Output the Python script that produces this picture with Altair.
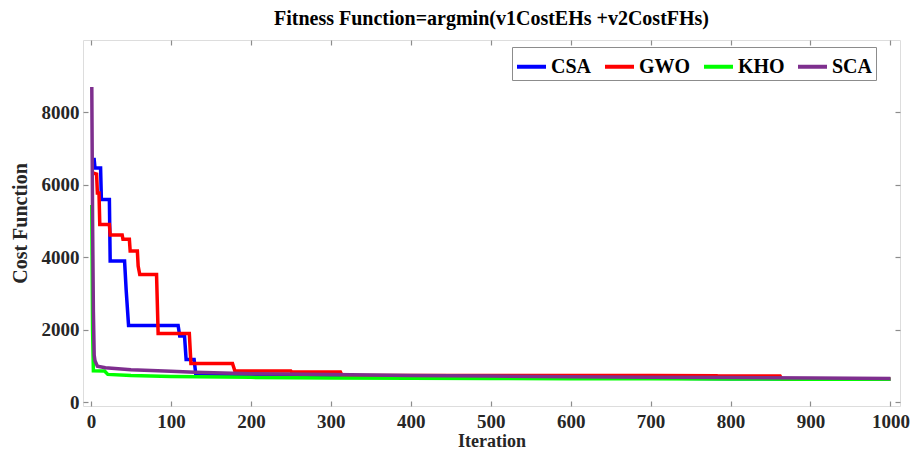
import altair as alt
import pandas as pd

series_names = ["CSA", "GWO", "KHO", "SCA"]
series_colors = ["#0000FF", "#FF0000", "#00FF00", "#7E2F8E"]

csa_iter = [1, 4, 5, 12, 13, 23, 24, 42, 44, 47, 109, 111, 117, 119, 129, 131, 200, 300, 400, 500, 600, 700, 800, 900, 1000]
csa_val = [6700, 6700, 6470, 6470, 5600, 5600, 3900, 3900, 3100, 2120, 2120, 1830, 1830, 1180, 1180, 790, 740, 720, 700, 690, 680, 670, 655, 645, 640]

gwo_iter = [1, 7, 8, 10, 11, 23, 24, 39, 40, 48, 49, 58, 59, 61, 82, 84, 123, 125, 177, 180, 250, 251, 312, 314, 500, 700, 783, 785, 862, 864, 1000]
gwo_val = [6340, 6300, 5780, 5780, 4910, 4910, 4620, 4620, 4500, 4500, 4180, 4180, 3760, 3530, 3530, 1900, 1900, 1076, 1076, 864, 864, 840, 840, 745, 740, 740, 738, 726, 726, 650, 645]

kho_iter = [1, 2, 3, 17, 21, 50, 100, 200, 300, 400, 500, 600, 700, 800, 900, 1000]
kho_val = [5450, 2000, 870, 865, 772, 740, 715, 690, 675, 665, 660, 655, 650, 645, 640, 635]

sca_iter = [1, 2, 3, 4, 5, 8, 18, 50, 100, 130, 200, 300, 400, 500, 600, 700, 800, 900, 1000]
sca_val = [8700, 5000, 2500, 1300, 1150, 1000, 957, 900, 860, 830, 790, 770, 745, 725, 705, 695, 685, 670, 660]

x_ticks = [0, 100, 200, 300, 400, 500, 600, 700, 800, 900, 1000]
y_ticks = [0, 2000, 4000, 6000, 8000]

frames = []
for name, it, v in [("CSA", csa_iter, csa_val), ("GWO", gwo_iter, gwo_val),
                    ("KHO", kho_iter, kho_val), ("SCA", sca_iter, sca_val)]:
    frames.append(pd.DataFrame({"Iteration": it, "Cost": v, "Algorithm": name}))
df = pd.concat(frames, ignore_index=True)
df["order"] = range(len(df))

FONT = "Liberation Serif"
GREY = "#8c8c8c"

xscale = alt.Scale(domain=[-10, 1012], nice=False, zero=False)
yscale = alt.Scale(domain=[-100, 10000], nice=False, zero=False)

lines = alt.Chart(df).mark_line(strokeWidth=3.5, interpolate="linear").encode(
    x=alt.X("Iteration:Q", scale=xscale,
            axis=alt.Axis(values=x_ticks, tickSize=0, domain=False, grid=False,
                          labelFont=FONT, labelFontWeight="bold", labelFontSize=19,
                          labelColor="#262626", labelPadding=6, format="d",
                          title="Iteration", titleFont=FONT, titleFontWeight="bold",
                          titleFontSize=18, titleColor="#262626", titlePadding=1)),
    y=alt.Y("Cost:Q", scale=yscale,
            axis=alt.Axis(values=y_ticks, tickSize=0, domain=False, grid=False,
                          labelFont=FONT, labelFontWeight="bold", labelFontSize=19,
                          labelColor="#262626", labelPadding=4, format="d",
                          title="Cost Function", titleFont=FONT, titleFontWeight="bold",
                          titleFontSize=20, titleColor="#262626", titlePadding=11)),
    color=alt.Color("Algorithm:N",
                    scale=alt.Scale(domain=series_names, range=series_colors),
                    legend=alt.Legend(title=None, orient="none", legendX=429, legendY=7,
                                      direction="horizontal", columns=4,
                                      symbolType="stroke", symbolSize=841,
                                      symbolStrokeWidth=4, labelFont=FONT,
                                      labelFontWeight="bold", labelFontSize=20,
                                      labelColor="#000000", labelOffset=3,
                                      columnPadding=5, padding=3,
                                      strokeColor=GREY, fillColor="white",
                                      labelLimit=200)),
    order=alt.Order("order:Q"),
)

def tick_layer(xorient, yorient):
    return alt.Chart(df).mark_point(opacity=0).encode(
        x=alt.X("Iteration:Q", scale=xscale,
                axis=alt.Axis(orient=xorient, values=x_ticks, offset=-5, tickSize=5,
                              tickColor=GREY, tickWidth=1.2, labels=False, domain=False,
                              grid=False, title=None)),
        y=alt.Y("Cost:Q", scale=yscale,
                axis=alt.Axis(orient=yorient, values=y_ticks, offset=-5, tickSize=5,
                              tickColor=GREY, tickWidth=1.2, labels=False, domain=False,
                              grid=False, title=None)),
    )

chart = alt.layer(lines, tick_layer("bottom", "left"), tick_layer("top", "right")).resolve_axis(
    x="independent", y="independent"
).properties(
    width=817, height=366,
    autosize=alt.AutoSizeParams(type="none"),
    padding={"left": 83, "top": 40, "right": 11, "bottom": 46},
    title=alt.TitleParams("Fitness Function=argmin(v1CostEHs +v2CostFHs)", font=FONT,
                          fontSize=20, fontWeight="bold", color="#000000",
                          anchor="middle", offset=10),
).configure_view(stroke=GREY, strokeWidth=1.5).configure(background="white")

chart.save("out.html", embed_options={"renderer": "svg", "actions": False})
